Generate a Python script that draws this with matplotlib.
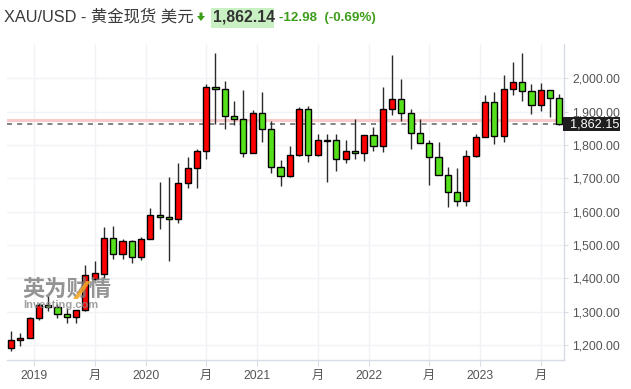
import pandas as pd
import matplotlib.pyplot as plt
import matplotlib.patches as mpatches
import matplotlib.transforms as mtransforms
import numpy as np

# ***********************
# DATA: monthly XAU/USD candles, Oct 2018 - Sep 2023
# ***********************

months = pd.date_range("2018-10-01", periods=60, freq="MS")

opens = [1192, 1215, 1222, 1282, 1321, 1313, 1292, 1283, 1305, 1399,
         1414, 1520, 1472, 1513, 1463, 1517, 1589, 1585, 1577, 1686,
         1730, 1781, 1975, 1968, 1886, 1879, 1777, 1895, 1847, 1733,
         1708, 1769, 1907, 1770, 1815, 1814, 1757, 1783, 1775, 1829,
         1796, 1908, 1937, 1897, 1837, 1807, 1765, 1711, 1660, 1633,
         1768, 1824, 1928, 1826, 1969, 1990, 1962, 1919, 1965, 1940]
highs = [1243, 1237, 1284, 1326, 1346, 1324, 1310, 1305, 1439, 1452,
         1555, 1557, 1517, 1516, 1525, 1611, 1689, 1704, 1747, 1765,
         1789, 1983, 2075, 1992, 1933, 1966, 1906, 1960, 1872, 1756,
         1798, 1913, 1917, 1832, 1834, 1834, 1814, 1877, 1831, 1853,
         1974, 2070, 1998, 1909, 1879, 1814, 1808, 1735, 1730, 1786,
         1833, 1949, 1960, 2009, 2048, 2075, 1983, 1987, 1966, 1953]
lows = [1183, 1196, 1221, 1276, 1303, 1281, 1266, 1266, 1301, 1396,
        1400, 1459, 1459, 1445, 1454, 1517, 1548, 1451, 1567, 1670,
        1671, 1757, 1863, 1849, 1860, 1765, 1775, 1810, 1717, 1677,
        1705, 1766, 1750, 1767, 1688, 1721, 1746, 1758, 1753, 1781,
        1780, 1890, 1872, 1787, 1805, 1681, 1709, 1615, 1617, 1616,
        1765, 1823, 1804, 1809, 1949, 1932, 1893, 1903, 1885, 1860]
closes = [1215, 1222, 1282, 1321, 1313, 1292, 1283, 1305, 1409, 1415,
          1520, 1472, 1513, 1463, 1517, 1589, 1585, 1577, 1686, 1730,
          1781, 1975, 1968, 1886, 1879, 1777, 1895, 1847, 1733, 1708,
          1769, 1907, 1770, 1814, 1812, 1757, 1783, 1775, 1829, 1796,
          1908, 1937, 1897, 1837, 1807, 1765, 1711, 1660, 1633, 1768,
          1824, 1928, 1826, 1969, 1990, 1962, 1919, 1965, 1940, 1862.15]

last_price = 1862.15
prev_close = 1875.12
y_ticks = [1200, 1300, 1400, 1500, 1600, 1700, 1800, 1900, 2000]

title_text = "XAU/USD - 黄金现货 美元"
header_price = "1,862.14"
header_change = "-12.98  (-0.69%)"

UP_COLOR = "#ff0000"     # red = up
DOWN_COLOR = "#55e01c"   # green = down
TEXT_GRAY = "#555555"
AXIS_GRAY = "#d8dce6"

plt.rcParams["font.family"] = ["Liberation Sans", "Noto Sans CJK SC", "DejaVu Sans"]

W, H = 631, 389

def fx(px):
    return px / W

def fy(py):
    return 1 - py / H

# ***********************
# PLOT
# ***********************

fig = plt.figure(figsize=(W / 100, H / 100), dpi=100)
fig.patch.set_facecolor("white")

ax = fig.add_axes([fx(7.3), fy(360), fx(564) - fx(7.3), fy(44) - fy(360)])
ax.set_facecolor("white")

x = np.arange(len(months))
o = np.array(opens, dtype=float)
h = np.array(highs, dtype=float)
l = np.array(lows, dtype=float)
c = np.array(closes, dtype=float)
colors = np.where(c >= o, UP_COLOR, DOWN_COLOR)

# previous close / last price lines
ax.axhline(prev_close, color="#f9caca", linewidth=2.2, zorder=1)
ax.axhline(last_price, color="#7a7a7a", linewidth=1.3, dashes=(2.8, 2.8), zorder=1)

# wicks + bodies
ax.vlines(x, l, h, color="#2b2b2b", linewidth=1.0, zorder=2)
ax.bar(x, np.abs(c - o), bottom=np.minimum(o, c), width=0.66,
       color=colors, edgecolor="black", linewidth=1.0, zorder=3)

ax.set_xlim(-0.4, 59.5)
ax.set_ylim(1155, 2103)

# x ticks: year at start of January, "月" at July candles
tick_pos, tick_lab = [], []
for i, m in enumerate(months):
    if m.month == 1:
        tick_pos.append(i - 0.5)
        tick_lab.append(str(m.year))
    elif m.month == 7:
        tick_pos.append(i)
        tick_lab.append("月")
ax.set_xticks(tick_pos)
ax.set_xticklabels(tick_lab)

ax.yaxis.tick_right()
ax.set_yticks(y_ticks)
ax.set_yticklabels([f"{v:,.2f}" for v in y_ticks])

ax.grid(True, color="#f1f2f5", linewidth=1.0, zorder=0)
ax.set_axisbelow(True)

for side in ["top", "left"]:
    ax.spines[side].set_visible(False)
for side in ["right", "bottom"]:
    ax.spines[side].set_color(AXIS_GRAY)
    ax.spines[side].set_linewidth(1.0)

ax.tick_params(axis="y", length=3, color=AXIS_GRAY, labelcolor=TEXT_GRAY,
               labelsize=8.8, pad=3)
ax.tick_params(axis="x", length=4, color=AXIS_GRAY, labelcolor=TEXT_GRAY,
               labelsize=8.8, pad=3)

# last price tag on the right axis
trans = mtransforms.blended_transform_factory(ax.transAxes, ax.transData)
ax_w = 564 - 7.3
box = mpatches.Rectangle(((563 - 7.3) / ax_w, last_price - 21), 57 / ax_w, 42,
                         transform=trans, facecolor="#1e1e1e", edgecolor="none",
                         clip_on=False, zorder=5)
ax.add_patch(box)
ax.text((570 - 7.3) / ax_w, last_price, f"{last_price:,.2f}", transform=trans,
        color="white", fontsize=9.2, va="center", ha="left", zorder=6, clip_on=False)

# ***********************
# HEADER
# ***********************

fig.text(fx(4), fy(17), title_text, fontsize=11.8, color="#3a3a3a", va="center")

arrow = mpatches.Polygon([(fx(199.5), fy(12.5)), (fx(202.5), fy(12.5)),
                          (fx(202.5), fy(16)), (fx(205), fy(16)),
                          (fx(201), fy(21)), (fx(197), fy(16)),
                          (fx(199.5), fy(16))],
                         closed=True, transform=fig.transFigure,
                         facecolor="#3c9d19", edgecolor="none")
fig.patches.append(arrow)

price_box = mpatches.Rectangle((fx(211), fy(28)), fx(274) - fx(211), fy(8) - fy(28),
                               transform=fig.transFigure, facecolor="#c9f0c2",
                               edgecolor="none")
fig.patches.append(price_box)
fig.text(fx(213), fy(17.5), header_price, fontsize=11.3, fontweight="bold",
         color="#333333", va="center")
fig.text(fx(279), fy(17.5), header_change, fontsize=9.6, fontweight="bold",
         color="#3c9d19", va="center")

# ***********************
# WATERMARK
# ***********************

fig.text(fx(22), fy(289), "英为财情", fontsize=16, fontweight="heavy",
         color="#7a7a7a", alpha=0.8, va="center", zorder=10,
         family=["Noto Sans CJK SC"])
slash = mpatches.Polygon([(fx(73), fy(299)), (fx(78), fy(299)),
                          (fx(91), fy(281)), (fx(86), fy(281))],
                         closed=True, transform=fig.transFigure,
                         facecolor="#f5a623", alpha=0.85, edgecolor="none", zorder=11)
fig.patches.append(slash)
fig.text(fx(23), fy(305), "Investing.com", fontsize=8, fontweight="bold",
         color="#8a8a8a", alpha=0.8, va="center", zorder=10)

fig.savefig("out.png", dpi=100)
